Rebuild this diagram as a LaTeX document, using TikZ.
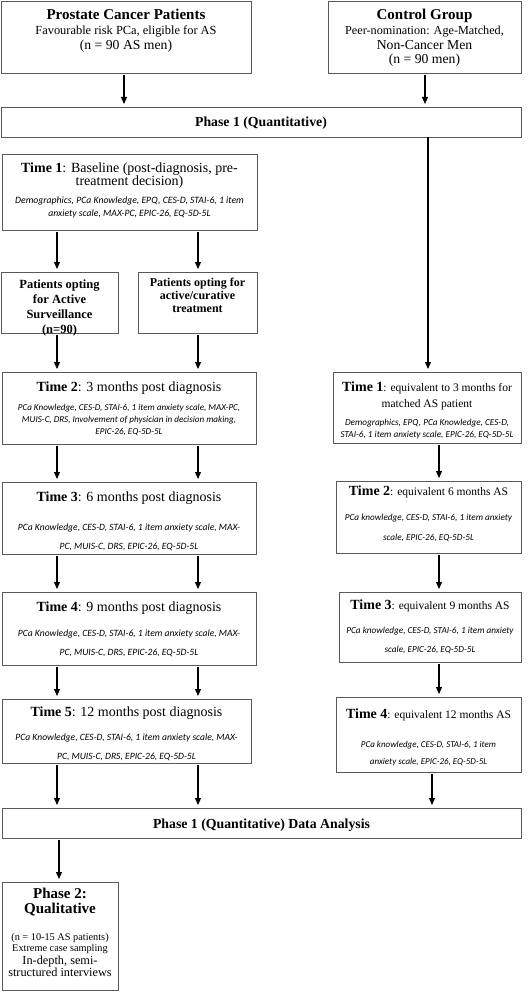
\documentclass[tikz,border=0pt]{standalone}
\usepackage{fontspec}
\setmainfont{Liberation Serif}
\newfontfamily\calib{Carlito}
\usetikzlibrary{arrows.meta}
\newcommand{\fs}[2]{\fontsize{#1}{#2}\selectfont}
\newcommand{\pbx}[4]{\parbox[t][#2][t]{#1}{\centering\hbox{}\vspace*{#3}#4\par}}
\newcommand{\meas}[1]{{\calib\itshape #1}}
\begin{document}
\begin{tikzpicture}[x=1pt,y=-1pt,
  box/.style={draw=black!65, line width=0.9pt, inner sep=0pt, outer sep=0pt, anchor=north west},
  arr/.style={draw=black, line width=1.1pt, -{Triangle[length=7pt,width=6pt]}, shorten >=3pt, shorten <=2pt}]
\useasboundingbox (0,0) rectangle (531,992);
% column coordinates for connectors
\coordinate (xp) at (124,0);
\coordinate (xc) at (425,0);
\coordinate (xl) at (428,0);
\coordinate (cL) at (57,0);
\coordinate (cR) at (198,0);
\coordinate (cC) at (439,0);
\coordinate (cD) at (432,0);
\coordinate (cP) at (59,0);
% top row
\node[box] (pcp) at (1,1) {\pbx{250pt}{72pt}{4pt}{\fs{12.4}{15}{\fs{15}{15}\bfseries Prostate Cancer Patients}\\Favourable risk PCa, eligible for AS\\{\fs{13.7}{15}(n = 90 AS men)}}};
\node[box] (ctrl) at (328,1) {\pbx{193pt}{72pt}{4.4pt}{\fs{12.2}{14.6}{\fs{15}{15}\bfseries Control Group}\\Peer-nomination: Age-Matched,\\{\fs{13.7}{15}Non-Cancer Men}\\{\fs{13.7}{15}(n = 90 men)}}};
\node[box] (ph1) at (1,107) {\pbx{520pt}{30pt}{6pt}{\fs{13.8}{14}\bfseries Phase 1 (Quantitative)}};
% patient column
\node[box] (t1) at (2,154) {\pbx{255pt}{76pt}{6pt}{{\fs{14}{13}\textbf{Time 1}: Baseline (post-diagnosis, pre-\\treatment decision)\par}\vspace{5pt}{\fs{9.7}{13}\meas{Demographics, PCa Knowledge, EPQ, CES-D, STAI-6, 1 item\\anxiety scale, MAX-PC, EPIC-26, EQ-5D-5L}\par}}};
\node[box] (as) at (1,272) {\pbx{117pt}{61pt}{1pt}{\fs{12.5}{15}\bfseries Patients opting\\for Active\\Surveillance\\(n=90)}};
\node[box] (act) at (138,272) {\pbx{119pt}{61pt}{1pt}{\fs{12}{13}\bfseries Patients opting for\\active/curative\\treatment}};
\node[box] (t2) at (2,372) {\pbx{254pt}{72pt}{5pt}{{\fs{14}{14}\textbf{Time 2}: 3 months post diagnosis\par}\vspace{7pt}{\fs{9.1}{12}\meas{PCa Knowledge, CES-D, STAI-6, 1 item anxiety scale, MAX-PC,\\MUIS-C, DRS, Involvement of physician in decision making,\\EPIC-26, EQ-5D-5L}\par}}};
\node[box] (t3) at (2,482) {\pbx{254pt}{72pt}{5pt}{{\fs{14}{14}\textbf{Time 3}: 6 months post diagnosis\par}\vspace{10pt}{\fs{9.6}{19}\meas{PCa Knowledge, CES-D, STAI-6, 1 item anxiety scale, MAX-\\PC, MUIS-C, DRS, EPIC-26, EQ-5D-5L}\par}}};
\node[box] (t4) at (2,592) {\pbx{254pt}{73pt}{5pt}{{\fs{14}{14}\textbf{Time 4}: 9 months post diagnosis\par}\vspace{6pt}{\fs{9.6}{19}\meas{PCa Knowledge, CES-D, STAI-6, 1 item anxiety scale, MAX-\\PC, MUIS-C, DRS, EPIC-26, EQ-5D-5L}\par}}};
\node[box] (t5) at (2,699) {\pbx{249pt}{64pt}{3pt}{{\fs{14}{14}\textbf{Time 5}: 12 months post diagnosis\par}\vspace{5pt}{\fs{9.6}{19}\meas{PCa Knowledge, CES-D, STAI-6, 1 item anxiety scale, MAX-\\PC, MUIS-C, DRS, EPIC-26, EQ-5D-5L}\par}}};
% control column
\node[box] (c1) at (333,372) {\pbx{188pt}{71pt}{3pt}{{\fs{11.5}{16}{\fs{14}{16}\bfseries Time 1}: equivalent to 3 months for\\matched AS patient\par}\vspace{6pt}{\fs{9.2}{12}\meas{Demographics, EPQ, PCa Knowledge, CES-D,\\STAI-6, 1 item anxiety scale, EPIC-26, EQ-5D-5L}\par}}};
\node[box] (c2) at (336,481) {\pbx{185pt}{72pt}{0pt}{{\fs{11.5}{14}{\fs{14}{14}\bfseries Time 2}: equivalent 6 months AS\par}\vspace{5pt}{\fs{9.2}{20}\meas{PCa knowledge, CES-D, STAI-6, 1 item anxiety\\scale, EPIC-26, EQ-5D-5L}\par}}};
\node[box] (c3) at (339,592) {\pbx{182pt}{70pt}{3pt}{{\fs{11.5}{14}{\fs{14}{14}\bfseries Time 3}: equivalent 9 months AS\par}\vspace{5pt}{\fs{9.2}{19}\meas{PCa knowledge, CES-D, STAI-6, 1 item anxiety\\scale, EPIC-26, EQ-5D-5L}\par}}};
\node[box] (c4) at (336,697) {\pbx{185pt}{75pt}{7pt}{{\fs{11.5}{14}{\fs{14}{14}\bfseries Time 4}: equivalent 12 months AS\par}\vspace{12pt}{\fs{9}{17}\meas{PCa knowledge, CES-D, STAI-6, 1 item\\anxiety scale, EPIC-26, EQ-5D-5L}\par}}};
% bottom
\node[box] (da) at (2,808) {\pbx{519pt}{30pt}{6pt}{\fs{13.8}{14}\bfseries Phase 1 (Quantitative) Data Analysis}};
\node[box] (ph2) at (2,882) {\pbx{116pt}{108pt}{1pt}{{\fs{15}{15}\bfseries Phase 2:\\Qualitative\par}\vspace{15.5pt}{\fs{10.3}{11.5}(n = 10-15 AS patients)\\Extreme case sampling\par}\vspace{1pt}{\fs{12.3}{12}In-depth, semi-\\structured interviews\par}}};
% connectors
\draw[arr] (pcp.south -| xp) -- (ph1.north -| xp);
\draw[arr] (ctrl.south -| xc) -- (ph1.north -| xc);
\draw[arr, shorten <=0pt] (ph1.south -| xl) -- (c1.north -| xl);
\draw[arr] (t1.south -| cL) -- (as.north -| cL);
\draw[arr] (t1.south -| cR) -- (act.north -| cR);
\draw[arr] (as.south -| cL) -- (t2.north -| cL);
\draw[arr] (act.south -| cR) -- (t2.north -| cR);
\draw[arr] (t2.south -| cL) -- (t3.north -| cL);
\draw[arr] (t2.south -| cR) -- (t3.north -| cR);
\draw[arr] (t3.south -| cL) -- (t4.north -| cL);
\draw[arr] (t3.south -| cR) -- (t4.north -| cR);
\draw[arr] (t4.south -| cL) -- (t5.north -| cL);
\draw[arr] (t4.south -| cR) -- (t5.north -| cR);
\draw[arr] (t5.south -| cL) -- (da.north -| cL);
\draw[arr] (t5.south -| cR) -- (da.north -| cR);
\draw[arr] (c1.south -| cC) -- (c2.north -| cC);
\draw[arr] (c2.south -| cC) -- (c3.north -| cC);
\draw[arr] (c3.south -| cC) -- (c4.north -| cC);
\draw[arr] (c4.south -| cD) -- (da.north -| cD);
\draw[arr] (da.south -| cP) -- (ph2.north -| cP);
\end{tikzpicture}
\end{document}
